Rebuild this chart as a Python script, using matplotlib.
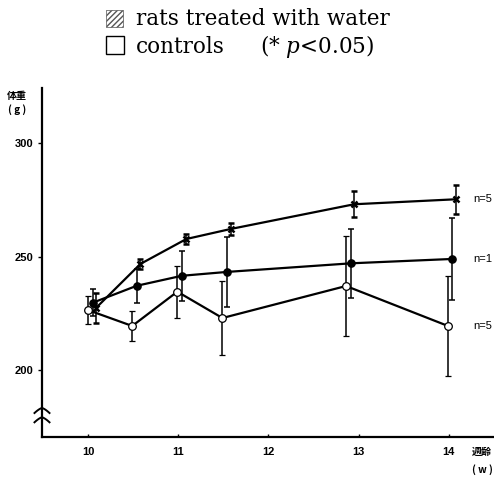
import numpy as np
import matplotlib
matplotlib.use("Agg")
from matplotlib import pyplot as plt
from matplotlib.patches import Rectangle

plt.rcParams['mathtext.fontset'] = 'dejavuserif'

# body weight (g) by age (weeks)
wk_open = [10.0, 10.49, 10.99, 11.49, 12.86, 13.99]
wt_open = [226.5, 219.5, 234.6, 223.0, 237.1, 219.5]
sd_open = [6.0, 6.5, 11.4, 16.3, 22.0, 22.0]

wk_fill = [10.05, 10.54, 11.04, 11.54, 12.92, 14.03]
wt_fill = [229.7, 237.2, 241.6, 243.3, 247.1, 249.0]
sd_fill = [6.0, 7.5, 11.0, 15.5, 15.3, 18.0]

wk_x = [10.09, 10.58, 11.09, 11.58, 12.95, 14.08]
wt_x = [227.5, 246.8, 257.8, 262.2, 273.1, 275.3]
sd_x = [6.7, 2.4, 2.4, 2.7, 5.7, 6.3]

n_labels = ["n=5", "n=1", "n=5"]
xticks = [10, 11, 12, 13, 14]
yticks = [200, 250, 300]

W, H = 494, 479
fig = plt.figure(figsize=(W / 100, H / 100), dpi=100)
ax = fig.add_axes([42 / W, (H - 437) / H, (W - 42) / W, (437 - 88) / H])

eb = dict(color='black', lw=1.6, elinewidth=1.1, capsize=2.5, capthick=1.1)
ax.errorbar(wk_x, wt_x, yerr=sd_x, marker='x', ms=4, mew=1.8, zorder=3, **eb)
ax.errorbar(wk_fill, wt_fill, yerr=sd_fill, marker='o', ms=5.2, zorder=3, **eb)
ax.errorbar(wk_open, wt_open, yerr=sd_open, marker='o', ms=5.5, mfc='white',
            mec='black', mew=0.9, zorder=4, **eb)

ax.set_xlim(9.49, 14.5)
ax.set_ylim(170.6, 324.3)
ax.set_xticks(xticks)
ax.set_yticks(yticks)
for s in ['top', 'right']:
    ax.spines[s].set_visible(False)
for s in ['left', 'bottom']:
    ax.spines[s].set_linewidth(1.6)

tick_font = dict(family='Liberation Sans', weight='bold', size=8)
ax.tick_params(axis='x', direction='in', length=2, width=1, pad=7)
ax.tick_params(axis='y', direction='out', length=3, width=1, pad=3)
for lab in ax.get_xticklabels() + ax.get_yticklabels():
    lab.set_fontproperties(tick_font)

# n labels beside the last points
for lab, y in zip(n_labels, [wt_x[-1], wt_fill[-1], wt_open[-1]]):
    ax.text(14.27, y, lab, fontsize=8, family='Liberation Sans',
            va='center', ha='left')

# axis break marks
t = np.linspace(-1, 1, 30)
for yb in [0.083, 0.0564]:
    ax.plot(t * 0.0166, yb - 0.0143 * np.abs(t) ** 1.4, color='black', lw=1.4,
            transform=ax.transAxes, clip_on=False)

cjk = ['Noto Sans CJK JP', 'DejaVu Sans']
lab_kw = dict(family=cjk, weight='bold', fontsize=7.2, ha='center', va='center')
fig.text(17 / W, 1 - 96 / H, "体重", **lab_kw)
fig.text(17 / W, 1 - 110 / H, "( g )", **lab_kw)
fig.text(482 / W, 1 - 452 / H, "週齢", **lab_kw)
fig.text(482 / W, 1 - 470 / H, "( w )", **lab_kw)

# legend
fig.add_artist(Rectangle((106 / W, 1 - 27 / H), 17 / W, 17 / H,
                         transform=fig.transFigure, facecolor='white',
                         edgecolor='#555555', hatch='//////', lw=0.5))
fig.add_artist(Rectangle((106 / W, 1 - 54 / H), 18 / W, 18 / H,
                         transform=fig.transFigure, facecolor='white',
                         edgecolor='black', lw=1.0))
leg_kw = dict(family='DejaVu Serif', fontsize=15.5, va='baseline', ha='left')
fig.text(136 / W, 1 - 25 / H, "rats treated with water", **leg_kw)
fig.text(136 / W, 1 - 53 / H, "controls", **leg_kw)
fig.text(260 / W, 1 - 53 / H, r"(* $\it{p}$<0.05)", **leg_kw)

fig.savefig("out.png", dpi=100)
